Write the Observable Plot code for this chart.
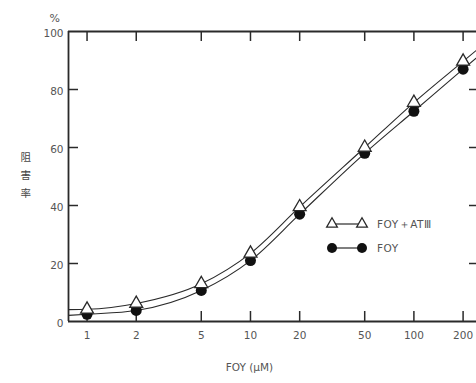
<!DOCTYPE html>
<html>
<head>
<meta charset="utf-8">
<script src="https://cdn.jsdelivr.net/npm/d3@7"></script>
<script src="https://cdn.jsdelivr.net/npm/@observablehq/plot@0.6"></script>
<style>
  html, body { margin: 0; padding: 0; background: #fff; overflow: hidden; }
  #chart { width: 476px; height: 383px; }
</style>
</head>
<body>
<div id="chart"></div>
<script>
// Concentrations of FOY (μM)
const conc = [1, 2, 5, 10, 20, 50, 100, 200];
// Inhibition rate (%) — FOY + ATIII (open triangles)
const foyAt = [4.2, 6.2, 13, 23.5, 39.5, 60, 75.5, 89.7];
// Inhibition rate (%) — FOY alone (filled circles)
const foy = [2.5, 3.8, 10.7, 21, 37, 58, 72.5, 87];
// Fitted curves as drawn, extended to the frame edges
const curveX = [0.77, 1, 2, 5, 10, 20, 50, 100, 200, 252];
const curveFoyAt = [4.1, 4.2, 6.2, 13, 23.5, 39.5, 60, 75.5, 89.7, 94.4];
const curveFoy = [2.1, 2.5, 3.8, 10.7, 21, 37, 58, 72.5, 87, 91.8];

const xTicks = [1, 2, 5, 10, 20, 50, 100, 200];
const yTicks = [0, 20, 40, 60, 80, 100];
const xDomain = [0.77, 252];
const seriesNames = ["FOY＋ATⅢ", "FOY"];

const W = 476, H = 383, mL = 68, mT = 31, mB = 62, mR = 0;
const frameH = H - mT - mB;
const frameW = W - mL - mR;
const ink = "#2a2a2a";
const textInk = "#555";

const ptsAt = conc.map((c, i) => ({x: c, y: foyAt[i]}));
const ptsFoy = conc.map((c, i) => ({x: c, y: foy[i]}));
const lineAt = curveX.map((c, i) => ({x: c, y: curveFoyAt[i]}));
const lineFoy = curveX.map((c, i) => ({x: c, y: curveFoy[i]}));

function legendMark(index, scales, values, dims) {
  const g = d3.create("svg:g");
  const x0 = dims.marginLeft + 264, x1 = dims.marginLeft + 294, tx = dims.marginLeft + 309;
  const rows = [dims.marginTop + 193, dims.marginTop + 217];
  rows.forEach((y, i) => {
    g.append("line").attr("x1", x0).attr("x2", x1).attr("y1", y).attr("y2", y)
      .attr("stroke", ink).attr("stroke-width", 1.2);
    [x0, x1].forEach(x => {
      if (i === 0) {
        g.append("path").attr("d", d3.symbol(d3.symbolTriangle, 50)())
          .attr("transform", `translate(${x},${y})`)
          .attr("fill", "#fff").attr("stroke", ink).attr("stroke-width", 1.3);
      } else {
        g.append("circle").attr("cx", x).attr("cy", y).attr("r", 5).attr("fill", "#111");
      }
    });
    g.append("text").attr("x", tx).attr("y", y).attr("dy", "0.35em")
      .attr("text-anchor", "start")
      .attr("fill", textInk).attr("font-size", 10.5).attr("letter-spacing", "0.5px")
      .text(seriesNames[i]);
  });
  return g.node();
}

const chart = Plot.plot({
  width: W, height: H,
  marginLeft: mL, marginTop: mT, marginBottom: mB, marginRight: mR,
  style: {fontFamily: "DejaVu Sans, sans-serif", fontSize: "10.5px", color: textInk, background: "#fff"},
  x: {type: "log", domain: xDomain, range: [mL, 479], axis: null},
  y: {domain: [0, 100], axis: null},
  marks: [
    // frame (left, bottom, top)
    Plot.ruleX([xDomain[0]], {stroke: ink, strokeWidth: 1.8}),
    Plot.ruleY([yTicks[0], yTicks[yTicks.length - 1]], {stroke: ink, strokeWidth: 1.8}),
    // inward ticks
    Plot.tickX(xTicks, {x: d => d, insetTop: frameH - 10, stroke: ink, strokeWidth: 1.5}),
    Plot.tickX(xTicks, {x: d => d, insetBottom: frameH - 10, stroke: ink, strokeWidth: 1.5}),
    Plot.tickY(yTicks.slice(1, -1), {y: d => d, insetRight: frameW - 10, stroke: ink, strokeWidth: 1.5}),
    Plot.tickY(yTicks.slice(1, -1), {y: d => d, insetLeft: frameW - 7, stroke: ink, strokeWidth: 1.5}),
    // tick labels
    Plot.text(xTicks, {x: d => d, frameAnchor: "bottom", dy: 17, text: d => String(d), fill: textInk, fontSize: 10.5, letterSpacing: "0.5px"}),
    Plot.text(yTicks, {y: d => d, frameAnchor: "left", dx: -5, dy: 2, textAnchor: "end", text: d => String(d), fill: textInk, fontSize: 10.5}),
    // curves
    Plot.line(lineAt, {x: "x", y: "y", curve: "monotone-x", stroke: ink, strokeWidth: 1.1}),
    Plot.line(lineFoy, {x: "x", y: "y", curve: "monotone-x", stroke: ink, strokeWidth: 1.1}),
    // markers
    Plot.dot(ptsFoy, {x: "x", y: "y", r: 5.5, fill: "#111", stroke: "none"}),
    Plot.dot(ptsAt, {x: "x", y: "y", symbol: "triangle", r: 4.8, fill: "#fff", stroke: ink, strokeWidth: 1.3}),
    // titles
    Plot.text(["%"], {frameAnchor: "top-left", dx: -19, dy: -17, fill: textInk, fontSize: 11}),
    Plot.text(["阻\n害\n率"], {frameAnchor: "left", dx: -48, dy: -3, lineHeight: 1.7, fill: "#444", fontSize: 10.5, fontFamily: "Noto Sans CJK JP"}),
    Plot.text(["FOY (μM)"], {frameAnchor: "bottom-left", dx: 181, dy: 49, textAnchor: "middle", fill: textInk, fontSize: 10.5}),
    // legend
    legendMark
  ]
});
document.getElementById("chart").appendChild(chart);
</script>
</body>
</html>
